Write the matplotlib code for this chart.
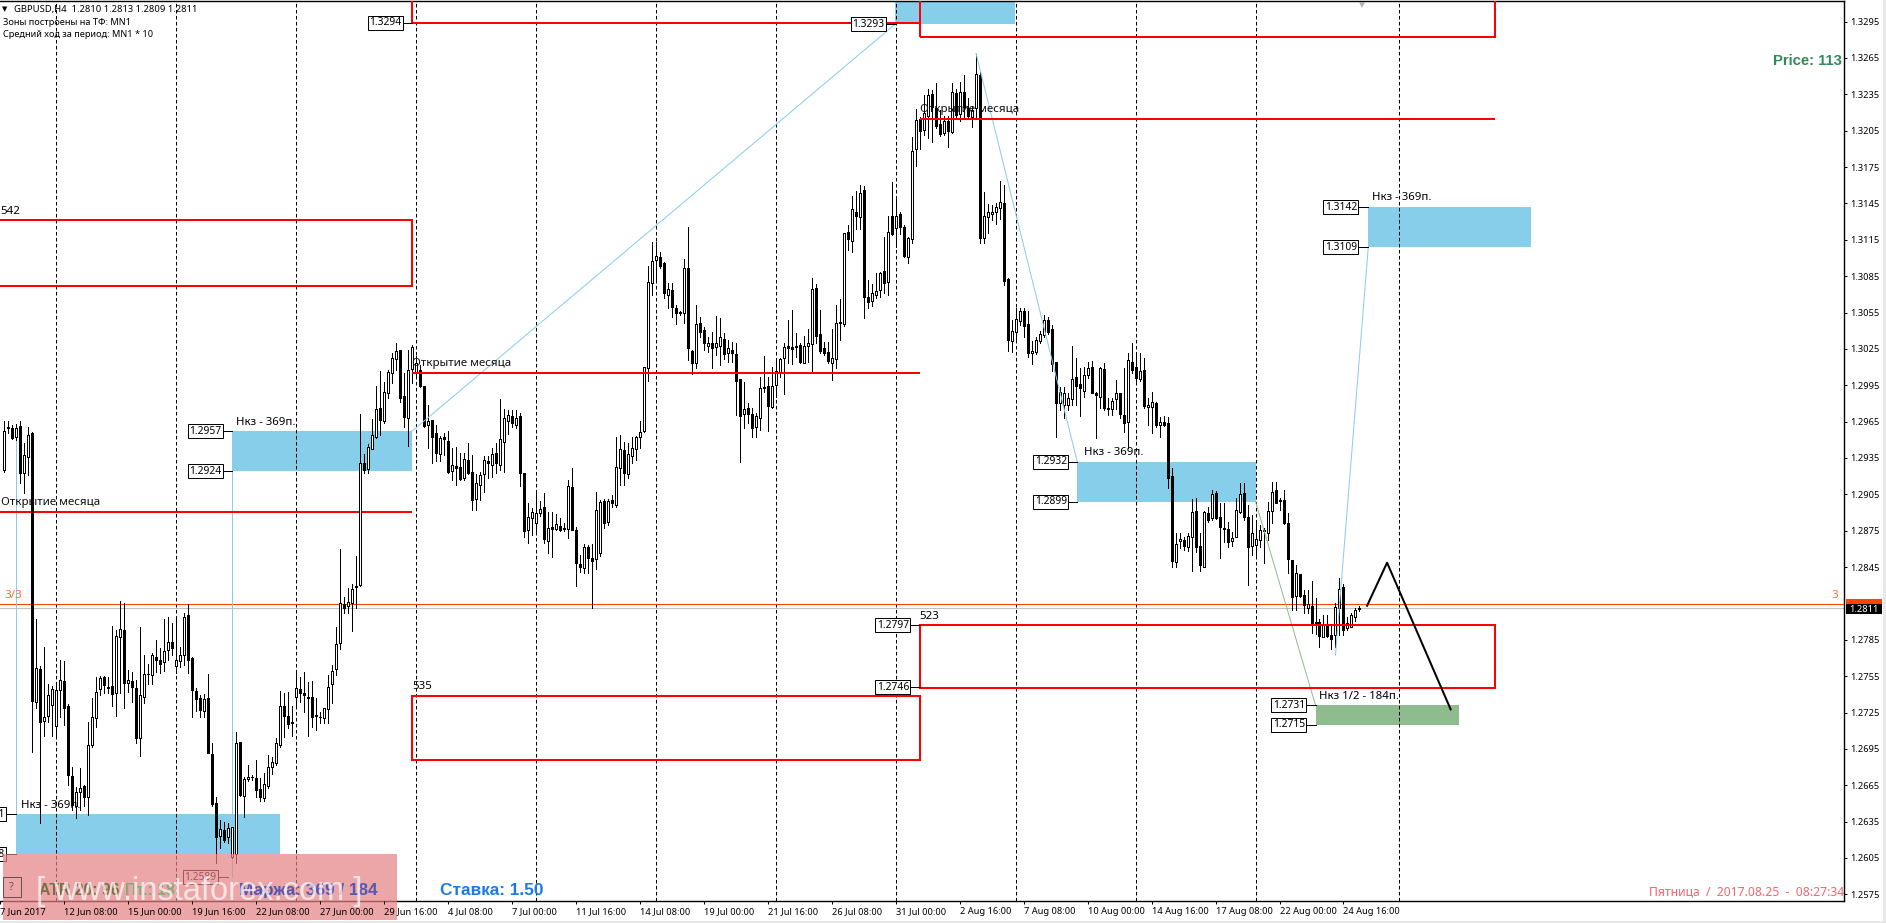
import matplotlib
matplotlib.use("Agg")
import matplotlib.pyplot as plt
from matplotlib.patches import Rectangle
from matplotlib.transforms import Affine2D

plt.rcParams['font.family'] = ['Noto Sans', 'DejaVu Sans']

opens = [
1.29250,1.29600,1.29594,1.29525,1.29613,1.29223,1.29360,1.29558,1.27339,1.27609,
1.27182,1.27221,1.27312,1.27139,1.27436,1.27510,1.27303,1.26726,1.26477,1.26597,
1.26644,1.26556,1.26982,1.27202,1.27441,1.27540,1.27463,1.27469,1.27408,1.27870,
1.27931,1.27491,1.27507,1.27449,1.27037,1.27375,1.27565,1.27559,1.27705,1.27683,
1.27669,1.27766,1.27829,1.27636,1.27677,1.27724,1.28052,1.27697,1.27430,1.27367,
1.27265,1.27367,1.26908,1.26506,1.26231,1.26281,1.26220,1.26061,1.26083,1.27009,
1.26561,1.26704,1.26721,1.26707,1.26616,1.26545,1.26646,1.26798,1.26836,1.26982,
1.27303,1.27221,1.27166,1.27375,1.27441,1.27408,1.27375,1.27375,1.27227,1.27213,
1.27202,1.27276,1.27485,1.27606,1.27820,1.28145,1.28128,1.28156,1.28283,1.28302,
1.29311,1.29262,1.29427,1.29526,1.29763,1.29658,1.29884,1.30048,1.30164,1.30241,
1.29861,1.29677,1.30082,1.30062,1.30076,1.29944,1.29625,1.29663,1.29553,1.29380,
1.29521,1.29490,1.29246,1.29284,1.29273,1.29188,1.29333,1.29232,1.29012,1.29127,
1.29218,1.29322,1.29292,1.29389,1.29292,1.29485,1.29658,1.29696,1.29622,1.29696,
1.29223,1.28756,1.28853,1.28817,1.28899,1.28943,1.28668,1.28778,1.28762,1.28789,
1.28767,1.28761,1.29113,1.28756,1.28475,1.28445,1.28613,1.28522,1.28514,1.28563,
1.28998,1.28824,1.29003,1.28962,1.29264,1.29415,1.29218,1.29366,1.29421,1.29526,
1.29575,1.30089,1.30791,1.30983,1.31005,1.30955,1.30694,1.30736,1.30584,1.30557,
1.30543,1.30914,1.30235,1.30136,1.30461,1.30405,1.30276,1.30296,1.30268,1.30276,
1.30328,1.30218,1.30240,1.30208,1.30001,1.29710,1.29759,1.29712,1.29603,1.29677,
1.29938,1.29946,1.29768,1.29952,1.30062,1.30172,1.30273,1.30268,1.30268,1.30282,
1.30136,1.30276,1.30290,1.30749,1.30370,1.30254,1.30221,1.30136,1.30164,1.30466,
1.30455,1.31211,1.31143,1.31380,1.31340,1.31560,1.30681,1.30648,1.30694,1.30736,
1.30892,1.30798,1.31348,1.31244,1.31359,1.31257,1.31010,1.31153,1.31896,1.32143,
1.32055,1.32171,1.32352,1.32234,1.32105,1.32033,1.32132,1.32041,1.32363,1.32187,
1.32366,1.32234,1.32160,1.32234,1.32509,1.31161,1.31335,1.31362,1.31381,1.31409,
1.31450,1.30823,1.30317,1.30391,1.30482,1.30562,1.30452,1.30218,1.30226,1.30314,
1.30364,1.30487,1.30411,1.30144,1.29806,1.29786,1.29786,1.29833,1.30014,1.29960,
1.29905,1.30034,1.30097,1.29883,1.29855,1.30080,1.29759,1.29753,1.29833,1.29883,
1.29704,1.29649,1.30144,1.30097,1.29998,1.30075,1.29767,1.29767,1.29800,1.29621,
1.29649,1.29640,1.29201,1.28495,1.28662,1.28674,1.28619,1.28701,1.28913,1.28627,
1.28453,1.28893,1.28852,1.29059,1.28866,1.28775,1.28764,1.28668,1.28701,1.28907,
1.29059,1.28860,1.28624,1.28632,1.28674,1.28756,1.28728,1.28916,1.29086,1.29003,
1.29003,1.28811,1.28509,1.28214,1.28393,1.28220,1.28110,1.28129,1.27999,1.27999,
1.27876,1.27978,1.27892,1.27890,1.28110,1.28283,1.27945,1.27959,1.28035,1.28100,
]
closes = [
1.29575,1.29600,1.29517,1.29600,1.29229,1.29374,1.29539,1.27347,1.27614,1.27174,
1.27216,1.27392,1.27441,1.27436,1.27518,1.27284,1.26734,1.26487,1.26591,1.26624,
1.26550,1.26982,1.27210,1.27422,1.27532,1.27477,1.27455,1.27403,1.27881,1.27936,
1.27496,1.27518,1.27458,1.27037,1.27394,1.27567,1.27565,1.27724,1.27683,1.27650,
1.27755,1.27834,1.27785,1.27683,1.27722,1.28035,1.27683,1.27436,1.27359,1.27270,
1.27359,1.26919,1.26495,1.26226,1.26286,1.26198,1.26294,1.26308,1.26996,1.26569,
1.26699,1.26721,1.26715,1.26611,1.26550,1.26660,1.26803,1.26844,1.26996,1.27306,
1.27221,1.27155,1.27166,1.27449,1.27413,1.27391,1.27370,1.27215,1.27221,1.27213,
1.27284,1.27463,1.27595,1.27812,1.28151,1.28109,1.28164,1.28266,1.28294,1.29311,
1.29251,1.29438,1.29537,1.29752,1.29664,1.29892,1.30062,1.30172,1.30230,1.29848,
1.29691,1.30076,1.30263,1.30131,1.29944,1.29614,1.29653,1.29521,1.29388,1.29512,
1.29504,1.29237,1.29292,1.29265,1.29174,1.29339,1.29229,1.29004,1.29141,1.29210,
1.29333,1.29311,1.29383,1.29311,1.29504,1.29677,1.29705,1.29636,1.29677,1.29229,
1.28751,1.28861,1.28902,1.28893,1.28927,1.28679,1.28770,1.28767,1.28803,1.28756,
1.28767,1.29122,1.28756,1.28481,1.28453,1.28618,1.28527,1.28503,1.28921,1.28989,
1.28816,1.28995,1.28981,1.29273,1.29421,1.29223,1.29383,1.29429,1.29520,1.29567,
1.30098,1.30799,1.30975,1.31016,1.30936,1.30708,1.30741,1.30593,1.30543,1.30549,
1.30920,1.30254,1.30130,1.30455,1.30392,1.30296,1.30301,1.30260,1.30296,1.30345,
1.30208,1.30254,1.30213,1.29988,1.29699,1.29751,1.29712,1.29594,1.29696,1.29924,
1.29930,1.29781,1.29943,1.30070,1.30164,1.30263,1.30260,1.30251,1.30268,1.30144,
1.30273,1.30301,1.30741,1.30356,1.30235,1.30219,1.30150,1.30172,1.30466,1.30466,
1.31203,1.31154,1.31400,1.31350,1.31540,1.30675,1.30639,1.30708,1.30730,1.30879,
1.30790,1.31211,1.31197,1.31348,1.31252,1.31016,1.31161,1.31882,1.32138,1.32050,
1.32193,1.32344,1.32242,1.32088,1.32022,1.32129,1.32047,1.32371,1.32179,1.32371,
1.32242,1.32171,1.32220,1.32514,1.31161,1.31346,1.31376,1.31376,1.31422,1.31458,
1.30812,1.30322,1.30400,1.30493,1.30565,1.30441,1.30213,1.30235,1.30322,1.30369,
1.30487,1.30391,1.30125,1.29800,1.29896,1.29888,1.29841,1.29998,1.29943,1.29924,
1.30034,1.30089,1.29888,1.29872,1.30089,1.29764,1.29750,1.29819,1.29888,1.29709,
1.29641,1.30158,1.30075,1.30012,1.30067,1.29778,1.29786,1.29808,1.29621,1.29643,
1.29621,1.29188,1.28503,1.28640,1.28679,1.28627,1.28709,1.28902,1.28619,1.28467,
1.28902,1.28838,1.29050,1.28858,1.28783,1.28761,1.28660,1.28690,1.28921,1.29050,
1.28860,1.28619,1.28734,1.28679,1.28756,1.28748,1.28916,1.29067,1.28981,1.28995,
1.28816,1.28517,1.28206,1.28399,1.28214,1.28137,1.28146,1.27980,1.27980,1.27881,
1.27972,1.27881,1.27854,1.28118,1.28266,1.27931,1.27986,1.28052,1.28096,1.28110,
]
highs = [
1.29658,1.29658,1.29622,1.29630,1.29658,1.29470,1.29603,1.29567,1.28019,1.27633,
1.27787,1.27485,1.27468,1.27485,1.27683,1.27678,1.27320,1.26803,1.26633,1.26789,
1.26652,1.27174,1.27367,1.27546,1.27551,1.27551,1.27546,1.27964,1.27931,1.28170,
1.28151,1.27600,1.27587,1.27518,1.27952,1.27724,1.27650,1.27743,1.27848,1.27779,
1.28019,1.28041,1.27985,1.28041,1.27793,1.28074,1.28142,1.27710,1.27449,1.27394,
1.27403,1.27567,1.27001,1.26550,1.26363,1.26349,1.26335,1.26308,1.27092,1.27009,
1.26721,1.26817,1.26735,1.26858,1.26707,1.26748,1.26899,1.26886,1.27037,1.27427,
1.27408,1.27422,1.27303,1.27595,1.27540,1.27587,1.27504,1.27510,1.27367,1.27257,
1.27290,1.27559,1.27642,1.27952,1.28596,1.28205,1.28274,1.28310,1.28541,1.29713,
1.29383,1.29465,1.29669,1.29944,1.30071,1.29980,1.30076,1.30219,1.30296,1.30241,
1.30048,1.30241,1.30282,1.30190,1.30117,1.29944,1.29787,1.29663,1.29622,1.29532,
1.29559,1.29575,1.29430,1.29438,1.29389,1.29394,1.29477,1.29375,1.29218,1.29237,
1.29366,1.29366,1.29430,1.29471,1.29834,1.29752,1.29746,1.29746,1.29746,1.29718,
1.29223,1.28976,1.28935,1.29059,1.28998,1.29064,1.28907,1.28907,1.28885,1.28852,
1.28811,1.29169,1.29264,1.28778,1.28549,1.28640,1.28632,1.28640,1.29066,1.29003,
1.29011,1.29008,1.29044,1.29526,1.29539,1.29484,1.29471,1.29520,1.29531,1.29658,
1.30098,1.30936,1.31134,1.31134,1.31052,1.30969,1.30796,1.30796,1.30612,1.30565,
1.30989,1.31253,1.30240,1.30612,1.30510,1.30428,1.30350,1.30392,1.30521,1.30502,
1.30384,1.30323,1.30309,1.30296,1.30001,1.29979,1.29800,1.29759,1.29718,1.30021,
1.30191,1.30021,1.30098,1.30172,1.30172,1.30296,1.30488,1.30570,1.30378,1.30296,
1.30356,1.30411,1.30832,1.30785,1.30570,1.30309,1.30309,1.30411,1.30612,1.30658,
1.31209,1.31272,1.31510,1.31550,1.31600,1.31590,1.30818,1.30785,1.30878,1.30887,
1.31170,1.31346,1.31623,1.31491,1.31381,1.31271,1.31175,1.32000,1.32226,1.32165,
1.32344,1.32390,1.32385,1.32440,1.32220,1.32171,1.32171,1.32440,1.32390,1.32454,
1.32509,1.32316,1.32253,1.32682,1.32536,1.31541,1.31445,1.31436,1.31455,1.31634,
1.31601,1.30831,1.30488,1.30584,1.30584,1.30584,1.30562,1.30317,1.30350,1.30397,
1.30529,1.30515,1.30446,1.30144,1.29938,1.29938,1.29888,1.30273,1.30171,1.30089,
1.30097,1.30144,1.30152,1.29896,1.30097,1.30130,1.29841,1.29841,1.29992,1.29888,
1.30089,1.30218,1.30301,1.30226,1.30212,1.30171,1.29841,1.29896,1.29814,1.29690,
1.29696,1.29690,1.29265,1.28734,1.28734,1.28696,1.28734,1.29009,1.29017,1.28729,
1.28916,1.28943,1.29086,1.29081,1.28981,1.28981,1.28825,1.28742,1.29017,1.29147,
1.29147,1.28962,1.28880,1.28811,1.28797,1.28770,1.28990,1.29155,1.29155,1.29017,
1.29086,1.28893,1.28509,1.28467,1.28393,1.28261,1.28261,1.28335,1.28192,1.28019,
1.28055,1.28055,1.27972,1.28157,1.28357,1.28310,1.28041,1.28074,1.28110,1.28130,
]
lows = [
1.29237,1.29553,1.29503,1.29500,1.29140,1.29063,1.29210,1.26927,1.27284,1.26335,
1.27056,1.27174,1.27056,1.27056,1.27216,1.27147,1.26652,1.26445,1.26377,1.26445,
1.26477,1.26404,1.26968,1.27133,1.27394,1.27414,1.27408,1.27303,1.27221,1.27408,
1.27284,1.27422,1.27339,1.27001,1.26891,1.27326,1.27485,1.27485,1.27587,1.27579,
1.27595,1.27683,1.27724,1.27573,1.27628,1.27642,1.27573,1.27216,1.27265,1.27210,
1.27216,1.26913,1.26480,1.26011,1.26129,1.26184,1.26171,1.26050,1.26011,1.26561,
1.26391,1.26688,1.26693,1.26556,1.26523,1.26523,1.26624,1.26743,1.26817,1.26963,
1.27051,1.27119,1.27056,1.27303,1.27339,1.27254,1.27056,1.27133,1.27106,1.27161,
1.27161,1.27161,1.27326,1.27559,1.27774,1.28068,1.28074,1.27925,1.28109,1.28294,
1.29223,1.29229,1.29421,1.29512,1.29540,1.29636,1.29842,1.29966,1.30076,1.29815,
1.29608,1.29452,1.29971,1.30021,1.29933,1.29609,1.29430,1.29312,1.29328,1.29328,
1.29375,1.29229,1.29169,1.29127,1.29169,1.29169,1.29218,1.28921,1.28921,1.29004,
1.29072,1.29182,1.29190,1.29229,1.29251,1.29237,1.29548,1.29609,1.29595,1.29119,
1.28701,1.28646,1.28715,1.28742,1.28872,1.28646,1.28569,1.28536,1.28756,1.28745,
1.28745,1.28687,1.28756,1.28294,1.28412,1.28404,1.28404,1.28109,1.28431,1.28541,
1.28769,1.28797,1.28948,1.28948,1.29127,1.29127,1.29182,1.29306,1.29333,1.29429,
1.29567,1.29988,1.30694,1.30818,1.30914,1.30667,1.30584,1.30516,1.30455,1.30529,
1.30466,1.30158,1.30042,1.30095,1.30350,1.30240,1.30227,1.30095,1.30199,1.30117,
1.30164,1.30144,1.30139,1.29704,1.29319,1.29594,1.29641,1.29520,1.29526,1.29581,
1.29897,1.29575,1.29759,1.29855,1.30021,1.29878,1.30130,1.30125,1.30186,1.30130,
1.30130,1.30144,1.30070,1.30301,1.30219,1.30199,1.30130,1.29993,1.30089,1.30323,
1.30438,1.31066,1.31052,1.31236,1.31236,1.30507,1.30584,1.30604,1.30667,1.30675,
1.30708,1.30694,1.31189,1.31090,1.31197,1.31005,1.30961,1.31120,1.31758,1.31896,
1.32014,1.31986,1.31959,1.32069,1.32006,1.32014,1.31912,1.32033,1.32143,1.32132,
1.32160,1.32160,1.32082,1.32160,1.31120,1.31120,1.31208,1.31312,1.31280,1.31318,
1.30776,1.30232,1.30226,1.30309,1.30446,1.30350,1.30180,1.30125,1.30207,1.30301,
1.30350,1.30372,1.30070,1.29520,1.29745,1.29676,1.29745,1.29786,1.29786,1.29696,
1.29855,1.30006,1.29883,1.29511,1.29759,1.29745,1.29704,1.29704,1.29750,1.29682,
1.29566,1.29430,1.30048,1.29987,1.29987,1.29759,1.29621,1.29558,1.29607,1.29525,
1.29613,1.29100,1.28453,1.28448,1.28605,1.28591,1.28585,1.28420,1.28577,1.28420,
1.28453,1.28825,1.28838,1.28844,1.28522,1.28660,1.28619,1.28624,1.28696,1.28893,
1.28838,1.28302,1.28550,1.28541,1.28619,1.28486,1.28673,1.28811,1.28976,1.28921,
1.28805,1.28404,1.28096,1.28096,1.28206,1.28069,1.28069,1.27903,1.27898,1.27788,
1.27876,1.27876,1.27771,1.27788,1.27890,1.27890,1.27931,1.27953,1.28008,1.28090,
]

price_ticks = [1.3295,1.3265,1.3235,1.3205,1.3175,1.3145,1.3115,1.3085,1.3055,1.3025,1.2995,
               1.2965,1.2935,1.2905,1.2875,1.2845,1.2785,1.2755,1.2725,1.2695,1.2665,1.2635,1.2605,1.2575]
time_tick_bars = [-1,15,31,47,63,79,95,111,127,143,159,175,191,207,223,239,255,271,287,303,319,335]
time_tick_labels = ['7 Jun 2017','12 Jun 08:00','15 Jun 00:00','19 Jun 16:00','22 Jun 08:00','27 Jun 00:00',
                    '29 Jun 16:00','4 Jul 08:00','7 Jul 00:00','11 Jul 16:00','14 Jul 08:00','19 Jul 00:00',
                    '21 Jul 16:00','26 Jul 08:00','31 Jul 00:00','2 Aug 16:00','7 Aug 08:00','10 Aug 00:00',
                    '14 Aug 16:00','17 Aug 08:00','22 Aug 00:00','24 Aug 16:00']
week_bars = [13,43,73,103,133,163,193,223,253,283,313,349]

blue_zones = [(3,69,1.2608,1.2641),(57,102,1.2924,1.2957),(268.4,313,1.2899,1.2932),
              (341.2,382,1.3109,1.3142),(222.9,252.9,1.3293,1.3320)]
green_zones = [(328,364,1.2715,1.2731)]
red_boxes = [(-5,102,1.3077,1.3131),(102,229,1.3294,1.3340),(229,373,1.32825,1.3340),
             (229,373,1.2745,1.2797),(102,229,1.2686,1.2739)]
month_open = [(-5,102,1.28904),(102,229,1.30053),(229,373,1.32146)]
blue_lines = [([3,3],[1.2641,1.2954]),([57,57],[1.2589,1.2924]),([102,222.9],[1.2957,1.3293]),
              ([243.1,268.4],[1.32688,1.2932]),([333,341.2],[1.27725,1.3109])]
green_line = ([313,328],[1.2899,1.2731])
forecast_bars = [340.9,345.9,361.8]
forecast_prices = [1.28131,1.28486,1.27276]
alert_price = 1.28143
bid_price = 1.2811
# label text, bar of the right edge of the box, price, bar where the leader ends
price_labels = [('1.3294',99.7,1.3294,102),('1.3293',220.5,1.3293,222.9),('1.2957',54.7,1.2957,57),
                ('1.2924',54.7,1.2924,57),('1.2932',266.2,1.2932,268.4),('1.2899',266.2,1.2899,268.4),
                ('1.3142',338.7,1.3142,341.2),('1.3109',338.7,1.3109,341.2),('1.2797',226.7,1.2797,229),
                ('1.2746',226.7,1.2746,229),('1.2731',325.7,1.2731,328),('1.2715',325.7,1.2715,328),
                ('1.2589',53.4,1.2589,56),('1.2641',0.5,1.2641,3),('1.2608',0.5,1.2608,3)]

fig = plt.figure(figsize=(18.86,9.23),dpi=100,facecolor='white')
ax = fig.add_axes([0,(923-901)/923,1844/1886,900/923])
ax.set_xlim(-0.825,460.175)
ax.set_ylim(1.25695,1.33120)
pix = Affine2D().scale(1/1886,-1/923).translate(0,1)+fig.transFigure
PX = 0.72

ax.yaxis.tick_right()
ax.set_yticks(price_ticks)
ax.set_yticklabels([f'{p:.4f}' for p in price_ticks],fontsize=6.7)
ax.set_xticks(time_tick_bars)
ax.set_xticklabels(time_tick_labels,fontsize=6.7,ha='left')
ax.tick_params(axis='both',length=3*PX,width=PX,color='black',pad=2.2)
ax.xaxis.set_zorder(6.2)
ax.spines['left'].set_visible(False)
for s in ('top','right','bottom'):
    ax.spines[s].set_linewidth(1.4*PX)

for (x0,x1,lo,hi) in blue_zones:
    ax.add_patch(Rectangle((x0,lo),x1-x0,hi-lo,fc='#87ceeb',ec='none',zorder=1))
for (x0,x1,lo,hi) in green_zones:
    ax.add_patch(Rectangle((x0,lo),x1-x0,hi-lo,fc='#8fbc8f',ec='none',zorder=1))

ax.vlines(week_bars,1.25695,1.33120,color='black',lw=PX,linestyles=(0,(3.6,2.4)),zorder=2)
ax.axhline(alert_price,color='#ff4500',lw=PX*1.1,zorder=2.2)
ax.axhline(bid_price,color='#c0c0c0',lw=PX*1.1,zorder=2.1)

idx = list(range(len(opens)))
ax.vlines(idx,lows,highs,color='black',lw=PX,zorder=3,antialiased=False)
up = [i for i in idx if closes[i]>opens[i]]
dn = [i for i in idx if closes[i]<=opens[i]]
ax.bar(up,[closes[i]-opens[i] for i in up],bottom=[opens[i] for i in up],width=0.5,
       facecolor='white',edgecolor='black',linewidth=PX,zorder=3.1,antialiased=False)
ax.bar(dn,[max(opens[i]-closes[i],0.00004) for i in dn],bottom=[closes[i] for i in dn],width=0.5,
       facecolor='black',edgecolor='black',linewidth=PX,zorder=3.1,antialiased=False)

for xs,ys in blue_lines:
    ax.plot(xs,ys,color='#87ceeb',lw=PX,zorder=2.5 if xs[0]==xs[1] else 3.3)
ax.plot(green_line[0],green_line[1],color='#8fbc8f',lw=PX,zorder=3.3)
ax.plot(forecast_bars,forecast_prices,color='black',lw=2*PX,zorder=4)

for (x0,x1,lo,hi) in red_boxes:
    ax.add_patch(Rectangle((x0,lo),x1-x0,hi-lo,fc='none',ec='#ff0000',lw=2*PX,zorder=3.6,antialiased=False))
for n,(x0,x1,y) in enumerate(month_open):
    ax.plot([x0,x1],[y,y],color='#ff0000',lw=2*PX,zorder=2.9 if n==0 else 3.6,solid_capstyle='butt',antialiased=False)
    ax.text(x0 if n else -0.825,y+0.00035,'Открытие месяца',fontsize=8.3,va='bottom',ha='left',color='#111111',zorder=5)

ax.text(-0.825,1.3131+0.0003,'542',fontsize=8.3,va='bottom',zorder=5)
ax.text(229,1.2797+0.0003,'523',fontsize=8.3,va='bottom',ha='left',zorder=5)
ax.text(102,1.2739+0.0003,'535',fontsize=8.3,va='bottom',ha='left',zorder=5)
for x,y,t in [(58,1.2957+0.0003,'Нкз - 369п.'),(4.2,1.2641+0.0003,'Нкз - 369п.'),
              (270,1.2932+0.0003,'Нкз - 369п.'),(342.2,1.3142+0.0003,'Нкз - 369п.'),
              (329,1.2731+0.0003,'Нкз 1/2 - 184п.')]:
    ax.text(x,y,t,fontsize=8.2,va='bottom',ha='left',zorder=5)

for t,xr,y,xe in price_labels:
    ax.plot([xr,xe],[y,y],color='black',lw=PX,zorder=4.5)
    ax.text(xr-0.35,y,t,fontsize=7.4,ha='right',va='center',zorder=5,clip_on=True,
            bbox=dict(fc='white',ec='black',lw=PX,pad=1.0))

def T(x,y,s,**kw):
    kw.setdefault('va','center')
    kw.setdefault('ha','left')
    kw.setdefault('zorder',5)
    return ax.text(x,y,s,transform=pix,clip_on=False,**kw)

T(1.5,9,'▼',fontsize=5,color='black',family=['DejaVu Sans'])
T(14,9.5,'GBPUSD,H4  1.2810 1.2813 1.2809 1.2811',fontsize=6.8)
T(3,22.5,'Зоны построены на ТФ: MN1',fontsize=6.6)
T(3,34.5,'Средний ход за период: MN1 * 10',fontsize=6.6)
ax.plot([339.7],[1.33120-0.00035],marker='v',color='#b0b0b0',ms=5,mew=0,zorder=5,clip_on=False)

T(1842,61,'Price: 113',fontsize=10.7,fontweight='bold',ha='right',color='#2e8b57',family=['Liberation Sans'])
T(4,596,'3/3',fontsize=8.4,color='#ff6a3c')
T(1838,596,'3',fontsize=8.4,ha='right',color='#ff6a3c')
T(1649,892,'Пятница  /  2017.08.25  -  08:27:34',fontsize=8.8,color='#f7646f')

ax.add_patch(Rectangle((1846,599),36,5,transform=pix,fc='#ff4500',ec='none',clip_on=False,zorder=5))
ax.add_patch(Rectangle((1846,603.5),36,10.5,transform=pix,fc='black',ec='none',clip_on=False,zorder=5.1))
T(1864,609,'1.2811',fontsize=6.7,color='white',ha='center',zorder=5.2)

ax.add_patch(Rectangle((3,854),394,66,transform=pix,fc='#e48083',ec='none',alpha=0.7,clip_on=False,zorder=6))
ax.add_patch(Rectangle((2.5,877),18.5,20,transform=pix,fc='none',ec='#6b5050',lw=PX,clip_on=False,zorder=6.5))
T(11.5,887,'?',fontsize=8,ha='center',color='#6b5050',zorder=6.5)
T(39,890.5,'ATR 20: 96',fontsize=11.4,fontweight='bold',color='#7a7048',family=['Liberation Sans'],zorder=6.5)
T(125,890.5,'Пт.: 18',fontsize=11.4,fontweight='bold',color='#8aa878',family=['Liberation Sans'],zorder=6.5)
T(239,890.5,'Маржа: 369 / 184',fontsize=12.4,fontweight='bold',color='#5458b0',family=['Liberation Sans'],zorder=6.5)
T(440,890.5,'Ставка: 1.50',fontsize=12.4,fontweight='bold',color='#1a7ae8',family=['Liberation Sans'],zorder=6.5)
T(199,900,'[ www.instaforex.com ]',fontsize=23.5,va='baseline',ha='center',color='white',alpha=0.7,
  family=['Liberation Sans'],zorder=7)

fig.add_artist(Rectangle((1883,0),3,923,transform=pix,fc='#e8e8e8',ec='none'))
fig.add_artist(Rectangle((0,921),1886,2,transform=pix,fc='#e8e8e8',ec='none'))

fig.savefig('out.png',dpi=100)
